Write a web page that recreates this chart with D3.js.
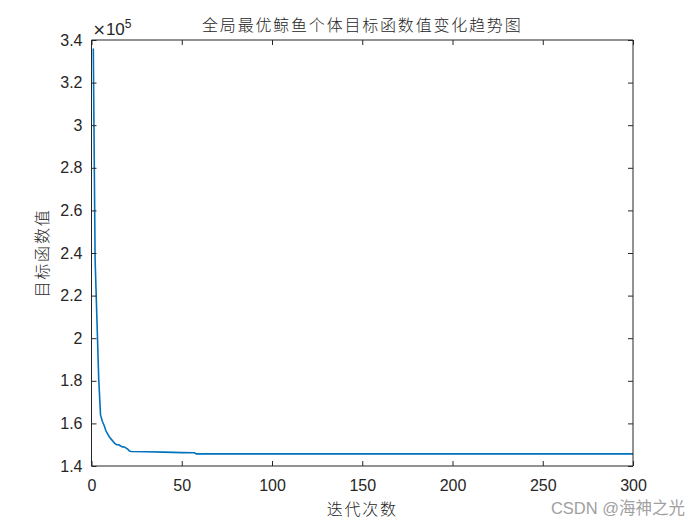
<!DOCTYPE html>
<html>
<head>
  <meta charset="utf-8">
  <title>全局最优鲸鱼个体目标函数值变化趋势图</title>
  <script src="https://d3js.org/d3.v7.min.js"></script>
  <style>
    body { margin: 0; background: #fff; }
    .tick text { font-family: "Liberation Sans", Arial, sans-serif; font-size: 16px; fill: #262626; }
    .cjk { font-family: "Noto Sans CJK SC", sans-serif; fill: #262626; font-weight: 300; }
  </style>
</head>
<body>
  <div id="chart"></div>
  <script>
    // iteration number and best objective value (x 1e5)
    var iterations = [1, 2, 3, 4, 5, 6, 7, 8, 9, 10, 11, 12, 13, 14, 15, 16, 17, 18, 19, 20, 21, 22, 30, 40, 50, 57, 58, 300];
    var bestValues = [3.36, 2.37, 2.09, 1.81, 1.64, 1.61, 1.59, 1.565, 1.55, 1.535, 1.525, 1.515, 1.505, 1.50, 1.50, 1.495,
      1.49, 1.49, 1.485, 1.48, 1.47, 1.468, 1.467, 1.465, 1.463, 1.462, 1.457, 1.457];
    var xTicks = [0, 50, 100, 150, 200, 250, 300];
    var yTicks = [1.4, 1.6, 1.8, 2, 2.2, 2.4, 2.6, 2.8, 3, 3.2, 3.4];

    var width = 700, height = 525;
    var margin = { left: 91.5, right: 67, top: 40, bottom: 59 };

    var svg = d3.select("#chart").append("svg")
      .attr("width", width)
      .attr("height", height);

    var x = d3.scaleLinear().domain([0, 300]).range([margin.left, width - margin.right]);
    var y = d3.scaleLinear().domain([1.4, 3.4]).range([height - margin.bottom, margin.top]);

    var tickLen = 5;
    var axisColor = "#262626";

    // line
    var data = iterations.map(function (d, i) { return [d, bestValues[i]]; });
    svg.append("path")
      .datum(data)
      .attr("fill", "none")
      .attr("stroke", "#0072BD")
      .attr("stroke-width", 1.6)
      .attr("stroke-linejoin", "round")
      .attr("d", d3.line().x(function (d) { return x(d[0]); }).y(function (d) { return y(d[1]); }));

    // axes (ticks pointing inward)
    var axBottom = svg.append("g")
      .attr("transform", "translate(0," + y.range()[0] + ")")
      .call(d3.axisBottom(x).tickValues(xTicks).tickSize(-tickLen).tickPadding(14).tickFormat(d3.format("d")));
    var axTop = svg.append("g")
      .attr("transform", "translate(0," + margin.top + ")")
      .call(d3.axisTop(x).tickValues(xTicks).tickSize(-tickLen).tickFormat(""));
    var axLeft = svg.append("g")
      .attr("transform", "translate(" + margin.left + ",0)")
      .call(d3.axisLeft(y).tickValues(yTicks).tickSize(-tickLen).tickPadding(9).tickFormat(function (d) { return String(+d.toFixed(1)); }));
    var axRight = svg.append("g")
      .attr("transform", "translate(" + (width - margin.right) + ",0)")
      .call(d3.axisRight(y).tickValues(yTicks).tickSize(-tickLen).tickFormat(""));

    [axBottom, axTop, axLeft, axRight].forEach(function (g) {
      g.select(".domain").attr("stroke", axisColor).attr("stroke-width", 1);
      g.selectAll(".tick line").attr("stroke", axisColor);
    });
    axBottom.select(".domain").attr("d", "M" + x.range()[0] + ",0H" + x.range()[1]);
    axTop.select(".domain").attr("d", "M" + x.range()[0] + ",0H" + x.range()[1]);
    axLeft.select(".domain").attr("d", "M0," + y.range()[0] + "V" + y.range()[1]);
    axRight.select(".domain").attr("d", "M0," + y.range()[0] + "V" + y.range()[1]);

    // exponent label
    var expo = svg.append("text")
      .attr("x", margin.left + 1)
      .attr("y", 35)
      .attr("font-family", "Liberation Sans, Arial, sans-serif")
      .attr("font-size", 17)
      .attr("fill", axisColor);
    expo.append("tspan").attr("font-family", "DejaVu Sans, sans-serif").attr("font-size", 16).text("×");
    expo.append("tspan").text("10");
    expo.append("tspan").attr("font-size", 12).attr("dy", -7).text("5");

    // title and labels
    svg.append("text")
      .attr("class", "cjk")
      .attr("x", (x.range()[0] + x.range()[1]) / 2)
      .attr("y", 31)
      .attr("text-anchor", "middle")
      .attr("font-size", 16)
      .attr("letter-spacing", 1.8)
      .text("全局最优鲸鱼个体目标函数值变化趋势图");

    svg.append("text")
      .attr("class", "cjk")
      .attr("x", (x.range()[0] + x.range()[1]) / 2)
      .attr("y", 515)
      .attr("text-anchor", "middle")
      .attr("font-size", 16)
      .attr("letter-spacing", 1.8)
      .text("迭代次数");

    svg.append("text")
      .attr("class", "cjk")
      .attr("transform", "translate(48," + ((y.range()[0] + y.range()[1]) / 2) + ") rotate(-90)")
      .attr("text-anchor", "middle")
      .attr("font-size", 16)
      .attr("letter-spacing", 1.8)
      .text("目标函数值");

    // watermark
    svg.append("text")
      .attr("x", 685)
      .attr("y", 514)
      .attr("text-anchor", "end")
      .attr("font-family", "Liberation Sans, 'Noto Sans CJK SC', sans-serif")
      .attr("font-size", 16.5)
      .attr("fill", "#a0a0a0")
      .text("CSDN @海神之光");
  </script>
</body>
</html>
